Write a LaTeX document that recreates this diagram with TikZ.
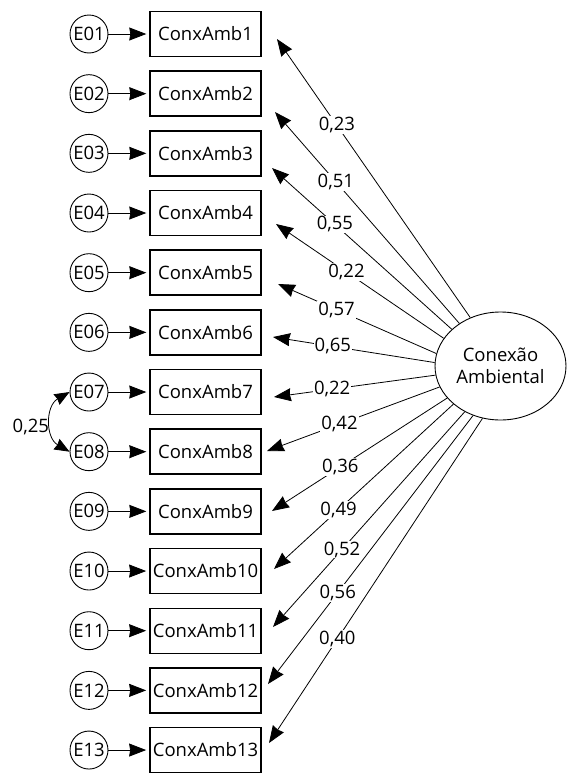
\documentclass[tikz,border=0pt]{standalone}
\usepackage{fontspec}
\setmainfont{Open Sans}
\usetikzlibrary{arrows.meta,shapes.geometric}
\tikzset{
    err/.style = {draw, circle, line width=0.9pt, inner sep=0pt, minimum size=38pt},
    item/.style = {draw, rectangle, line width=1.4pt,
        minimum height=45pt,
        minimum width=111pt, inner sep=3pt},
    latent/.style = {draw, ellipse, line width=0.9pt, inner sep=0pt,
        minimum width=131pt, minimum height=108pt, align=center},
    arrow/.style = {draw, line width=0.8pt, -{Stealth[length=17pt,width=13pt,inset=1pt]}},
    cov/.style = {draw, line width=0.8pt,
        {Stealth[length=15pt,width=12pt,inset=1pt]}-{Stealth[length=15pt,width=12pt,inset=1pt]}},
    load/.style = {fill=white, inner sep=1pt}
}

\begin{document}
\begin{tikzpicture}[x=1pt,y=1pt,font=\fontsize{18.5}{22}\selectfont]
    \useasboundingbox (0,0) rectangle (567,-774);
    % indicators and their errors
    \foreach \i in {1,...,13} {
        \pgfmathsetmacro{\yy}{-34-(\i-1)*59.67}
        \node[err] (e\i) at (89,\yy) {E\ifnum\i<10 0\fi\i};
        \node[item] (v\i) at (205.5,\yy) {ConxAmb\i};
        \draw[arrow,shorten >=3pt] (e\i) -- (v\i.west);
    }
    \node[latent] (lat) at (500.5,-366) {Conexão\\Ambiental};

    \coordinate (t1) at (277,-39);
    \coordinate (t2) at (275,-112);
    \coordinate (t3) at (272,-168);
    \coordinate (t4) at (276,-224);
    \coordinate (t5) at (278,-284);
    \coordinate (t6) at (273,-337);
    \coordinate (t7) at (274,-397);
    \coordinate (t8) at (267,-451);
    \coordinate (t9) at (272,-511);
    \coordinate (t10) at (274,-569);
    \coordinate (t11) at (273,-627);
    \coordinate (t12) at (268,-684);
    \coordinate (t13) at (269,-743);

    % loadings
    \draw[arrow] (lat.122) -- node[load,pos=.69] {0,23} (t1);
    \draw[arrow] (lat.134) -- node[load,pos=.67] {0,51} (t2);
    \draw[arrow] (lat.143) -- node[load,pos=.65] {0,55} (t3);
    \draw[arrow] (lat.154) -- node[load,pos=.58] {0,22} (t4);
    \draw[arrow] (lat.169) -- node[load,pos=.63] {0,57} (t5);
    \draw[arrow] (lat.177) -- node[load,pos=.63] {0,65} (t6);
    \draw[arrow] (lat.188) -- node[load,pos=.64] {0,22} (t7);
    \draw[arrow] (lat.199) -- node[load,pos=.58] {0,42} (t8);
    \draw[arrow] (lat.211) -- node[load,pos=.61] {0,36} (t9);
    \draw[arrow] (lat.219) -- node[load,pos=.64] {0,49} (t10);
    \draw[arrow] (lat.232) -- node[load,pos=.64] {0,52} (t11);
    \draw[arrow] (lat.241) -- node[load,pos=.66] {0,56} (t12);
    \draw[arrow] (lat.251) -- node[load,pos=.68] {0,40} (t13);

    % error covariance
    \draw[cov] (e7.west) to[out=210,in=150,looseness=1.2]
        node[left,inner sep=2pt,yshift=-5pt] {0,25} (e8.west);
\end{tikzpicture}
\end{document}
